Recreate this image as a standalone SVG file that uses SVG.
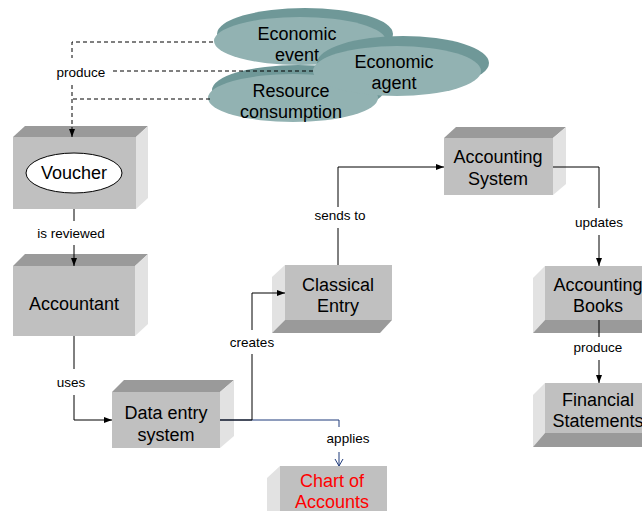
<svg xmlns="http://www.w3.org/2000/svg" width="642" height="511" viewBox="0 0 642 511">
<defs>
<style>
.front{fill:#c0c0c0}
.top{fill:#9a9a9a}
.side{fill:#e2e2e2}
.bot{fill:#9a9a9a}
.rim{fill:#6f9898}
.face{fill:#92b2b2}
.nt{font-family:"Liberation Sans",Arial,sans-serif;font-size:18px;fill:#000;text-anchor:middle}
.lb{font-family:"Liberation Sans",Arial,sans-serif;font-size:13.5px;fill:#000;text-anchor:middle}
.ln{fill:none;stroke:#000;stroke-width:1}
.dash{fill:none;stroke:#000;stroke-width:1;stroke-dasharray:4,3}
.blue{fill:none;stroke:#1f3a7a;stroke-width:1}
</style>
<marker id="ar" markerWidth="8" markerHeight="6" refX="8" refY="3" orient="auto" markerUnits="userSpaceOnUse">
<path d="M0,0 L8,3 L0,6 z" fill="#000"/>
</marker>
<marker id="av" markerWidth="10" markerHeight="10" refX="8" refY="5" orient="auto" markerUnits="userSpaceOnUse">
<path d="M1,1 L8,5 L1,9" fill="none" stroke="#1f3a7a" stroke-width="1"/>
</marker>
</defs>

<g id="economic-event">
<ellipse class="rim" cx="305" cy="34" rx="88" ry="26"/>
<ellipse class="face" cx="300" cy="41" rx="86" ry="24"/>
<text class="nt" x="297" y="40">Economic</text>
<text class="nt" x="297" y="61">event</text>
</g>
<g id="resource-consumption">
<ellipse class="rim" cx="298" cy="90" rx="86" ry="25"/>
<ellipse class="face" cx="293" cy="98" rx="85" ry="24"/>
<text class="nt" x="291" y="97">Resource</text>
<text class="nt" x="291" y="118">consumption</text>
</g>
<g id="economic-agent">
<ellipse class="rim" cx="403" cy="63" rx="86" ry="27"/>
<ellipse class="face" cx="397" cy="71" rx="84" ry="25"/>
<text class="nt" x="394" y="68">Economic</text>
<text class="nt" x="394" y="89">agent</text>
</g>

<g id="voucher">
<rect class="front" x="13" y="137" width="123" height="72"/>
<polygon class="top" points="13,137 25,126 148,126 136,137"/>
<polygon class="side" points="136,137 148,126 148,198 136,209"/>
<ellipse cx="74" cy="173" rx="48" ry="20" fill="#fff" stroke="#000" stroke-width="1"/>
<text class="nt" x="74" y="179">Voucher</text>
</g>
<g id="accountant">
<rect class="front" x="13" y="266" width="122" height="70"/>
<polygon class="top" points="13,266 25,254 148,254 135,266"/>
<polygon class="side" points="135,266 148,254 148,324 135,336"/>
<text class="nt" x="74" y="310">Accountant</text>
</g>
<g id="data-entry-system">
<rect class="front" x="112" y="392" width="108" height="56"/>
<polygon class="top" points="112,392 124,380 234,380 220,392"/>
<polygon class="side" points="220,392 234,380 234,436 220,448"/>
<text class="nt" x="166" y="419">Data entry</text>
<text class="nt" x="166" y="441">system</text>
</g>
<g id="classical-entry">
<rect class="front" x="285" y="265" width="107" height="55"/>
<polygon class="side" points="272,277 285,265 285,320 272,333"/>
<polygon class="bot" points="272,333 285,320 392,320 380,333"/>
<text class="nt" x="338" y="291">Classical</text>
<text class="nt" x="338" y="312">Entry</text>
</g>
<g id="accounting-system">
<rect class="front" x="444" y="138" width="109" height="57"/>
<polygon class="top" points="444,138 456,127 566,127 553,138"/>
<polygon class="side" points="553,138 566,127 566,184 553,195"/>
<text class="nt" x="498" y="163">Accounting</text>
<text class="nt" x="498" y="185">System</text>
</g>
<g id="accounting-books">
<rect class="front" x="545" y="266" width="110" height="54"/>
<polygon class="side" points="533,278 545,266 545,320 533,333"/>
<polygon class="bot" points="533,333 545,320 655,320 643,333"/>
<text class="nt" x="598" y="291">Accounting</text>
<text class="nt" x="598" y="312">Books</text>
</g>
<g id="financial-statements">
<rect class="front" x="545" y="383" width="110" height="50"/>
<polygon class="side" points="533,395 545,383 545,433 533,447"/>
<polygon class="bot" points="533,447 545,433 655,433 643,447"/>
<text class="nt" x="598" y="406">Financial</text>
<text class="nt" x="598" y="427">Statements</text>
</g>
<g id="chart-of-accounts">
<rect class="front" x="280" y="466" width="107" height="50"/>
<polygon class="side" points="267,478 280,466 280,516 267,516"/>
<text class="nt" x="332" y="487" style="fill:#ff0000">Chart of</text>
<text class="nt" x="332" y="508" style="fill:#ff0000">Accounts</text>
</g>

<g id="connectors">
<path class="dash" d="M213,42 H72 V58"/>
<path class="dash" d="M313,71 H110"/>
<path class="dash" d="M210,99 H72"/>
<path class="dash" d="M72,85 V137" marker-end="url(#ar)"/>
<text class="lb" x="81" y="77">produce</text>

<path class="ln" d="M74,209 V221"/>
<path class="ln" d="M74,245 V266" marker-end="url(#ar)"/>
<text class="lb" x="71" y="238">is reviewed</text>

<path class="ln" d="M74,336 V369"/>
<path class="ln" d="M74,395 V420 H112" marker-end="url(#ar)"/>
<text class="lb" x="71" y="387">uses</text>

<path class="blue" d="M220,420 H339 V427"/>
<path class="blue" d="M339,452 V466" marker-end="url(#av)"/>
<text class="lb" x="348" y="443">applies</text>

<path class="ln" d="M220,420 H252 V354"/>
<path class="ln" d="M252,330 V293 H285" marker-end="url(#ar)"/>
<text class="lb" x="252" y="347">creates</text>

<path class="ln" d="M338,265 V228"/>
<path class="ln" d="M338,207 V167 H444" marker-end="url(#ar)"/>
<text class="lb" x="340" y="220">sends to</text>

<path class="ln" d="M553,167 H599 V208"/>
<path class="ln" d="M599,235 V266" marker-end="url(#ar)"/>
<text class="lb" x="599" y="227">updates</text>

<path class="ln" d="M599,320 V337"/>
<path class="ln" d="M599,360 V383" marker-end="url(#ar)"/>
<text class="lb" x="598" y="352">produce</text>
</g>
</svg>
